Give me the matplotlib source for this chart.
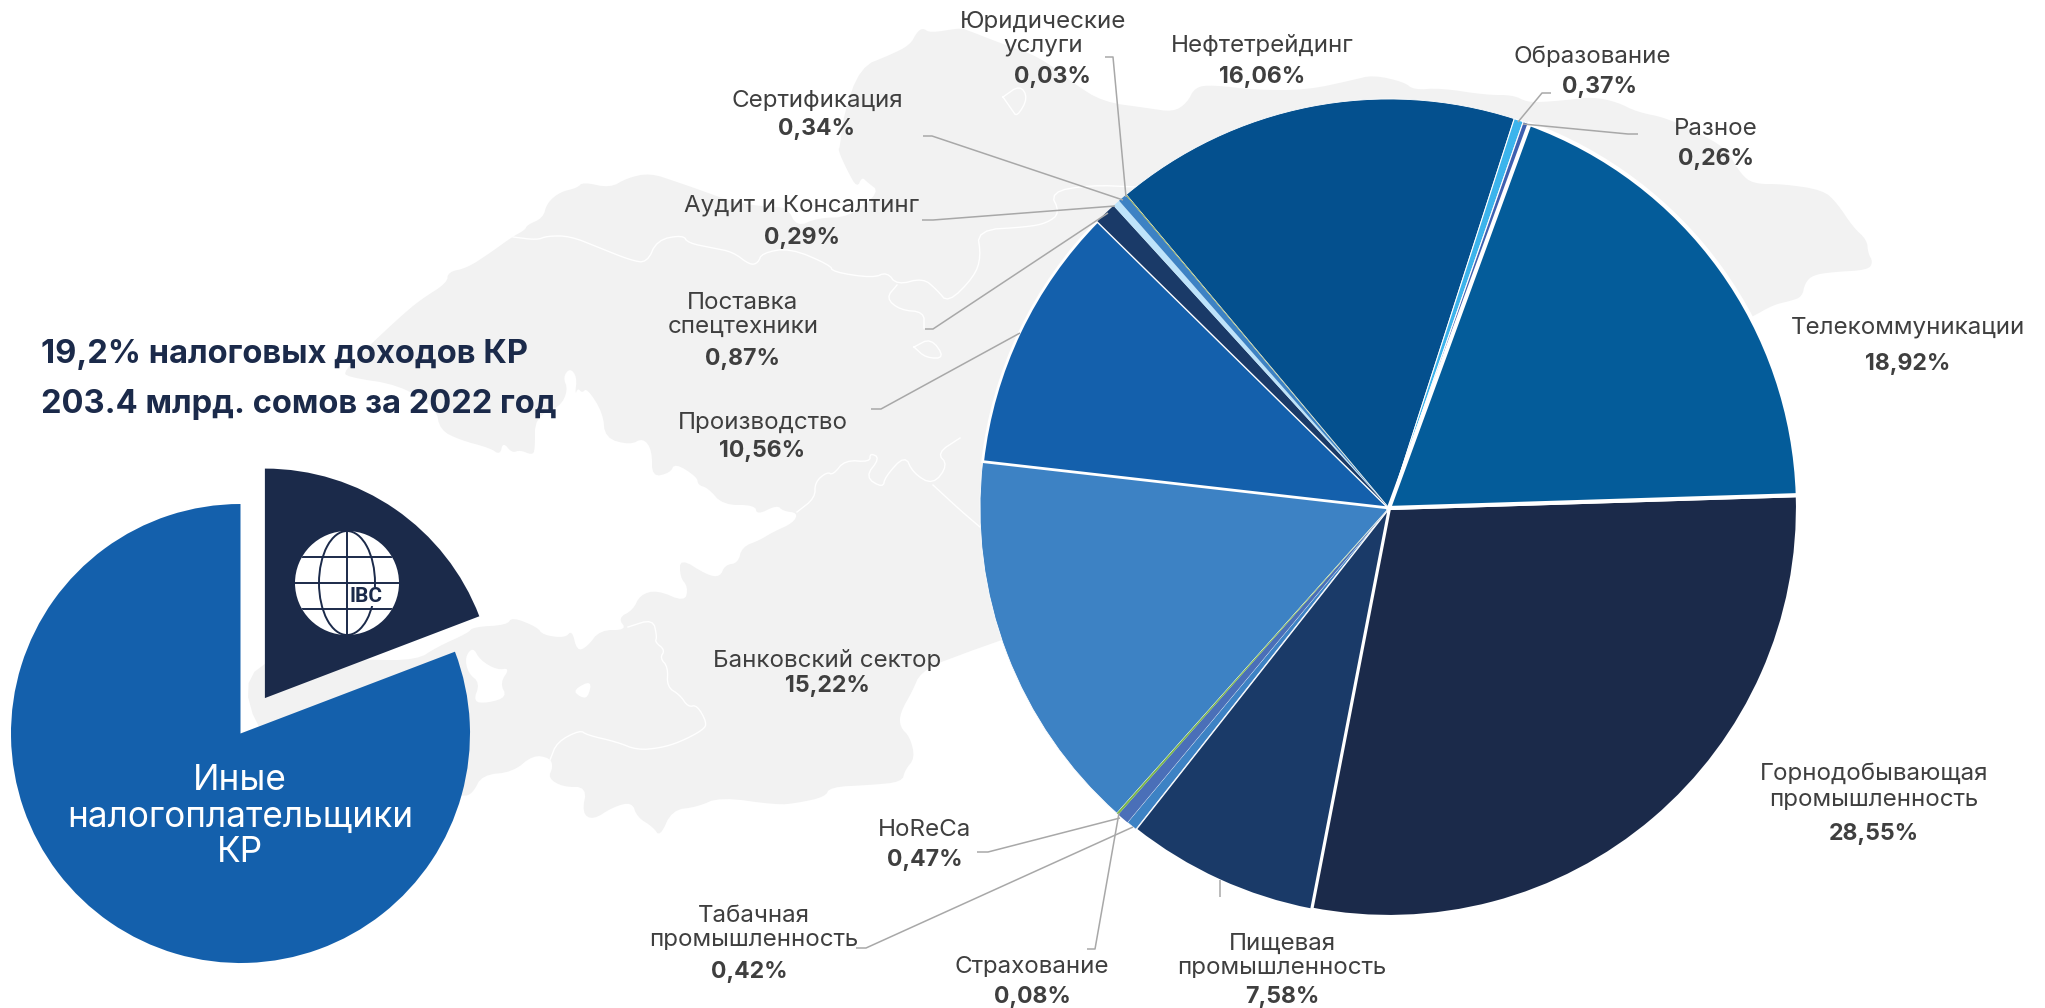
import matplotlib
matplotlib.use("Agg")
import matplotlib.pyplot as plt
from matplotlib.patches import Polygon, Circle, Ellipse

W, H = 2045, 1008
LABEL_FONT = "Inter"
TITLE_FONT = "Inter"
DARK = "#1B2A4A"
TEXT_C = "#3F3F3F"
LINE_C = "#A8A8A8"
MAP_C = "#F2F2F2"

# data
sectors = ["Горнодобывающая\nпромышленность", "Пищевая\nпромышленность", "Табачная\nпромышленность",
           "HoReCa", "Страхование", "Банковский сектор", "Производство", "Поставка\nспецтехники",
           "Аудит и Консалтинг", "Сертификация", "Юридические\nуслуги", "Нефтетрейдинг",
           "Образование", "Разное", "Телекоммуникации"]
shares = [28.55, 7.58, 0.42, 0.47, 0.08, 15.22, 10.56, 0.87, 0.29, 0.34, 0.03, 16.06, 0.37, 0.26, 18.92]
share_labels = ["28,55%", "7,58%", "0,42%", "0,47%", "0,08%", "15,22%", "10,56%", "0,87%",
                "0,29%", "0,34%", "0,03%", "16,06%", "0,37%", "0,26%", "18,92%"]
total_parts = [19.2, 80.8]
total_title = ["19,2% налоговых доходов КР", "203.4 млрд. сомов за 2022 год"]
other_label = ["Иные", "налогоплательщики", "КР"]

# styles
sector_colors = ["#1B2A4A", "#1A3A68", "#3D82C4", "#4A6FB8", "#7AB648", "#3D82C4", "#1460AC", "#1A3A68",
                 "#BEE3FA", "#3D82C4", "#8AA53C", "#04508E", "#3CB4EC", "#3F60B0", "#045C9A"]
edge_widths = [3.0, 1.6, 0.5, 0, 0, 0.6, 2.0, 0, 0, 0, 0, 0.6, 0.8, 0.8, 3.0]

# label centres in px: name lines x, first line y, line step, pct x, pct y
label_pos = [(1874, 774, 26, 1874, 834), (1282, 944, 24, 1282, 997), (754, 916, 24, 749, 972),
             (925, 830, 0, 925, 860), (1032, 967, 0, 1032, 997), (827, 661, 0, 827, 686),
             (763, 423, 0, 762, 451), (743, 303, 24, 743, 359), (802, 206, 0, 802, 238),
             (817, 101, 0, 817, 129), (1043, 22, 24, 1052, 77), (1262, 46, 0, 1262, 77),
             (1592, 57, 0, 1600, 87), (1716, 129, 0, 1716, 159), (1908, 328, 0, 1908, 364)]

leaders = [
    [(856, 948), (866, 948), (1133, 827)],
    [(977, 852), (988, 852), (1120, 818)],
    [(1087, 949), (1095, 949), (1119, 813)],
    [(1220, 880), (1220, 897)],
    [(871, 409), (881, 409), (1020, 333)],
    [(925, 329), (933, 329), (1108, 213)],
    [(922, 220), (933, 220), (1115, 206)],
    [(923, 136), (932, 136), (1123, 200)],
    [(1105, 57), (1113, 57), (1126, 197)],
    [(1551, 93), (1542, 93), (1518, 122)],
    [(1638, 134), (1628, 134), (1523, 124)],
]

map_outline = [
    (917, 32), (923, 28), (930, 33), (960, 28), (967, 30), (1000, 43), (1040, 57), (1073, 83), (1103, 102),
    (1147, 108), (1173, 112), (1187, 103), (1195, 87), (1213, 85), (1256, 90), (1307, 90), (1353, 80),
    (1373, 75), (1404, 82), (1414, 90), (1440, 88), (1486, 95), (1513, 95), (1527, 102), (1543, 102),
    (1567, 100), (1593, 97), (1617, 102), (1637, 112), (1667, 118), (1707, 137), (1727, 150), (1740, 173),
    (1753, 184), (1783, 184), (1823, 190), (1837, 203), (1853, 227), (1867, 240), (1868, 253), (1873, 262),
    (1868, 270), (1833, 272), (1813, 275), (1805, 283), (1802, 297), (1790, 301), (1773, 305), (1752, 317),
    (1389, 507), (950, 657), (920, 673), (913, 690), (900, 713), (900, 727), (910, 737), (915, 758),
    (905, 770), (902, 782), (870, 785), (830, 787), (825, 797), (797, 803), (777, 805), (720, 797),
    (697, 807), (672, 810), (660, 837), (653, 827), (637, 817), (632, 802), (613, 807), (593, 820),
    (582, 813), (587, 787), (563, 787), (548, 778), (553, 767), (550, 758), (533, 755), (513, 772),
    (482, 775), (473, 793), (463, 797), (300, 790), (240, 700), (263, 655), (367, 660), (417, 660),
    (437, 647), (468, 633), (473, 627), (507, 625), (512, 617), (537, 627), (543, 635), (565, 638),
    (572, 630), (577, 651), (587, 647), (600, 630), (627, 630), (618, 618), (633, 610), (640, 595),
    (657, 590), (685, 602), (688, 587), (680, 577), (680, 558), (707, 575), (720, 577), (725, 565),
    (738, 563), (742, 547), (760, 540), (773, 532), (793, 523), (798, 513), (783, 511), (777, 505),
    (757, 515), (755, 505), (723, 505), (708, 488), (698, 485), (697, 477), (675, 463), (670, 473),
    (652, 477), (652, 450), (643, 438), (630, 445), (605, 438), (603, 413), (587, 388), (582, 393),
    (578, 388), (575, 395), (577, 377), (570, 368), (563, 377), (568, 390), (560, 407), (535, 417),
    (535, 450), (532, 455), (520, 450), (512, 453), (503, 442), (500, 455), (490, 448), (460, 440),
    (440, 430), (436, 408), (400, 385), (347, 377), (344, 371), (370, 345), (400, 317), (420, 300),
    (447, 283), (448, 272), (467, 268), (490, 253), (512, 237), (525, 230), (527, 225), (543, 218),
    (547, 203), (560, 192), (577, 188), (583, 182), (610, 188), (627, 178), (650, 173), (677, 182),
    (700, 190), (733, 202), (767, 207), (787, 207), (797, 227), (817, 218), (850, 217), (880, 192),
    (867, 182), (862, 177), (857, 188), (847, 170), (838, 150), (840, 147), (843, 117), (860, 67),
    (890, 55), (910, 45),
]
map_holes = [
    [(473, 647), (480, 660), (497, 670), (510, 668), (500, 683), (507, 697), (488, 703), (473, 702),
     (480, 683), (468, 673), (465, 657)],
    [(573, 690), (592, 680), (588, 698), (580, 697)],
]
map_borders = [
    [(513, 237), (537, 240), (547, 236), (570, 236), (600, 248), (630, 260), (647, 263), (657, 240), (683, 235),
     (688, 243), (713, 248), (733, 252), (750, 265), (758, 263), (762, 253), (790, 248), (830, 265), (833, 272),
     (873, 278), (887, 272), (897, 285), (923, 278), (937, 290), (948, 303), (974, 277), (981, 257), (977, 230),
     (1027, 227), (1047, 223), (1060, 213), (1050, 192), (1090, 185), (1137, 187)],
    [(897, 285), (886, 298), (900, 310), (924, 312), (924, 328)],
    [(914, 347), (931, 338), (945, 358), (926, 358), (914, 347)],
    [(1003, 97), (1020, 85), (1028, 98), (1017, 117), (1012, 110), (1003, 97)],
    [(628, 627), (653, 619), (657, 637), (655, 642), (665, 650), (660, 658), (668, 667), (667, 687), (680, 695),
     (688, 707), (697, 705), (707, 723), (703, 730), (680, 742), (660, 748), (637, 750), (617, 742), (587, 735),
     (580, 730), (557, 742), (550, 760)],
    [(797, 512), (815, 498), (815, 482), (827, 472), (833, 475), (845, 460), (870, 462), (870, 453), (880, 458),
     (865, 477), (883, 488), (885, 477), (905, 455), (913, 473), (933, 485), (948, 465), (937, 453), (960, 438)],
    [(933, 485), (960, 510), (980, 527)],
]


def y(py):
    return H - py


def xy(pts):
    return [(a, y(b)) for a, b in pts]


# corner cutting so the traced map doesn't look jagged
def soften(pts, closed=True, rounds=2):
    for _ in range(rounds):
        out = [pts[0]] if not closed else []
        n = len(pts) if closed else len(pts) - 1
        for i in range(n):
            a, b = pts[i], pts[(i + 1) % len(pts)]
            out.append((0.75 * a[0] + 0.25 * b[0], 0.75 * a[1] + 0.25 * b[1]))
            out.append((0.25 * a[0] + 0.75 * b[0], 0.25 * a[1] + 0.75 * b[1]))
        if not closed:
            out.append(pts[-1])
        pts = out
    return pts


fig = plt.figure(figsize=(W / 100, H / 100), dpi=100)
ax = fig.add_axes([0, 0, 1, 1])

# map behind everything
ax.add_patch(Polygon(xy(soften(map_outline)), closed=True, fc=MAP_C, ec="none", zorder=0))
for hole in map_holes:
    ax.add_patch(Polygon(xy(soften(hole)), closed=True, fc="white", ec="none", zorder=0.1))
for b in map_borders:
    pts = xy(soften(b, closed=False))
    ax.plot([p[0] for p in pts], [p[1] for p in pts], color="white", lw=1, zorder=0.2)

# big pie
wedges, _ = ax.pie(shares, colors=sector_colors, center=(1389, y(508)), radius=409,
                   startangle=1.8, counterclock=False, wedgeprops={"edgecolor": "white"})
for w, lw in zip(wedges, edge_widths):
    w.set_linewidth(lw)
# hairline slices stay visible over their neighbours' edges
wedges[4].set_zorder(1.5)
wedges[10].set_zorder(1.5)

# small pie, explode is in data units here
small, _ = ax.pie(total_parts, colors=[DARK, "#1460AC"], center=(240.5, y(733.5)), radius=229.5,
                  startangle=90, counterclock=False, explode=[43, 0])
ax.set_xlim(0, W)
ax.set_ylim(0, H)
ax.axis("off")

for line in leaders:
    pts = xy(line)
    ax.plot([p[0] for p in pts], [p[1] for p in pts], color=LINE_C, lw=1.1, zorder=3, solid_capstyle="butt")

# sector labels
for name, pct, pos in zip(sectors, share_labels, label_pos):
    for i, part in enumerate(name.split("\n")):
        ax.text(pos[0], y(pos[1] + i * pos[2]), part, ha="center", va="center", fontsize=17.4,
                family=LABEL_FONT, color=TEXT_C, zorder=5)
    ax.text(pos[3], y(pos[4]), pct, ha="center", va="center", fontsize=16.6, family=LABEL_FONT,
            weight="bold", color=TEXT_C, zorder=5)

# title
for line, py in zip(total_title, [354, 404]):
    ax.text(41, y(py), line, ha="left", va="center", fontsize=23.5, family=TITLE_FONT, weight="bold",
            color=DARK, zorder=5)

# label on the small pie
for line, py in zip(other_label, [781, 817, 853]):
    ax.text(240, y(py), line, ha="center", va="center", fontsize=25.3, family=LABEL_FONT, color="white", zorder=5)

# logo
cx, cy, r = 347, y(583), 52
globe = Circle((cx, cy), r, fc="white", ec="none", zorder=4)
ax.add_patch(globe)
for dy in [-26, 0, 26]:
    ln, = ax.plot([cx - r, cx + r], [cy + dy, cy + dy], color=DARK, lw=1.4, zorder=4.1)
    ln.set_clip_path(globe)
ln, = ax.plot([cx, cx], [cy - r, cy + r], color=DARK, lw=1.4, zorder=4.1)
ln.set_clip_path(globe)
ax.add_patch(Ellipse((cx, cy), 56, 2 * r, fc="none", ec=DARK, lw=1.4, zorder=4.1))
ax.add_patch(Polygon(xy([(350, 587), (381, 587), (381, 606), (350, 606)]), fc="white", ec="none", zorder=4.2))
ax.text(366, y(597), "IBC", ha="center", va="center", fontsize=15, family="Roboto", weight="bold",
        color=DARK, zorder=4.3)

fig.savefig("out.png", dpi=100)
